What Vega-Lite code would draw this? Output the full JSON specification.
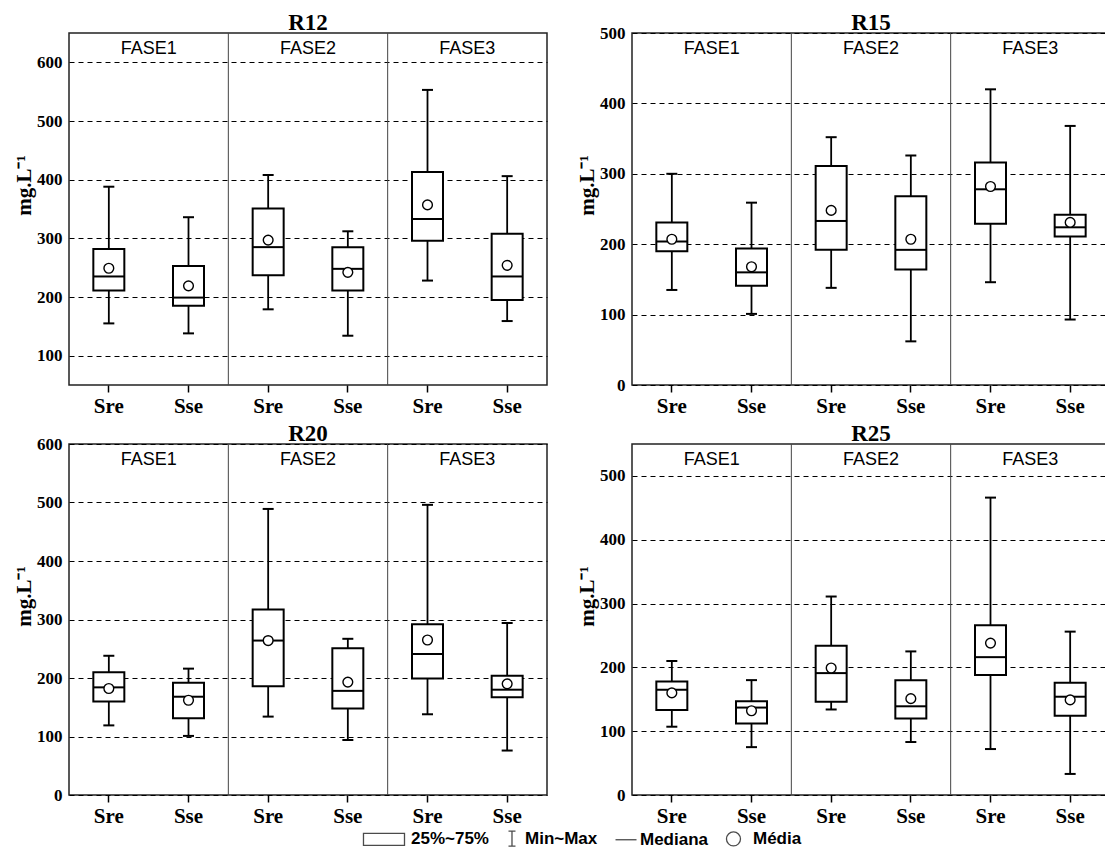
{
  "$schema": "https://vega.github.io/schema/vega-lite/v6.json",
  "background": "white",
  "padding": {"left": 12, "top": 10, "right": 0, "bottom": 0},
  "datasets": {
    "stats": [
      {"reator": "R12", "cat": "FASE1 Sre", "min": 155, "q1": 211, "mediana": 235, "q3": 282, "max": 388, "media": 249},
      {"reator": "R12", "cat": "FASE1 Sse", "min": 138, "q1": 185, "mediana": 199, "q3": 253, "max": 336, "media": 219},
      {"reator": "R12", "cat": "FASE2 Sre", "min": 179, "q1": 237, "mediana": 285, "q3": 351, "max": 408, "media": 297},
      {"reator": "R12", "cat": "FASE2 Sse", "min": 134, "q1": 211, "mediana": 248, "q3": 285, "max": 312, "media": 242},
      {"reator": "R12", "cat": "FASE3 Sre", "min": 228, "q1": 296, "mediana": 333, "q3": 413, "max": 553, "media": 357},
      {"reator": "R12", "cat": "FASE3 Sse", "min": 159, "q1": 195, "mediana": 235, "q3": 308, "max": 406, "media": 254},
      {"reator": "R15", "cat": "FASE1 Sre", "min": 135, "q1": 190, "mediana": 204, "q3": 231, "max": 300, "media": 207},
      {"reator": "R15", "cat": "FASE1 Sse", "min": 101, "q1": 141, "mediana": 160, "q3": 194, "max": 259, "media": 168},
      {"reator": "R15", "cat": "FASE2 Sre", "min": 138, "q1": 192, "mediana": 233, "q3": 311, "max": 352, "media": 248},
      {"reator": "R15", "cat": "FASE2 Sse", "min": 62, "q1": 164, "mediana": 192, "q3": 268, "max": 326, "media": 207},
      {"reator": "R15", "cat": "FASE3 Sre", "min": 146, "q1": 229, "mediana": 278, "q3": 316, "max": 420, "media": 282},
      {"reator": "R15", "cat": "FASE3 Sse", "min": 93, "q1": 211, "mediana": 224, "q3": 242, "max": 368, "media": 231},
      {"reator": "R20", "cat": "FASE1 Sre", "min": 119, "q1": 160, "mediana": 184, "q3": 210, "max": 238, "media": 182},
      {"reator": "R20", "cat": "FASE1 Sse", "min": 101, "q1": 131, "mediana": 168, "q3": 192, "max": 216, "media": 162},
      {"reator": "R20", "cat": "FASE2 Sre", "min": 134, "q1": 186, "mediana": 264, "q3": 317, "max": 489, "media": 264},
      {"reator": "R20", "cat": "FASE2 Sse", "min": 94, "q1": 148, "mediana": 178, "q3": 251, "max": 267, "media": 193},
      {"reator": "R20", "cat": "FASE3 Sre", "min": 138, "q1": 199, "mediana": 241, "q3": 292, "max": 496, "media": 265},
      {"reator": "R20", "cat": "FASE3 Sse", "min": 76, "q1": 167, "mediana": 180, "q3": 204, "max": 294, "media": 190},
      {"reator": "R25", "cat": "FASE1 Sre", "min": 107, "q1": 133, "mediana": 165, "q3": 178, "max": 210, "media": 160},
      {"reator": "R25", "cat": "FASE1 Sse", "min": 75, "q1": 112, "mediana": 137, "q3": 147, "max": 180, "media": 132},
      {"reator": "R25", "cat": "FASE2 Sre", "min": 134, "q1": 146, "mediana": 191, "q3": 234, "max": 311, "media": 199},
      {"reator": "R25", "cat": "FASE2 Sse", "min": 83, "q1": 120, "mediana": 139, "q3": 180, "max": 225, "media": 151},
      {"reator": "R25", "cat": "FASE3 Sre", "min": 72, "q1": 188, "mediana": 216, "q3": 266, "max": 466, "media": 238},
      {"reator": "R25", "cat": "FASE3 Sse", "min": 33, "q1": 124, "mediana": 154, "q3": 176, "max": 256, "media": 149}
    ],
    "fases": [
      {"fase": "FASE1", "primeiro": "FASE1 Sre"},
      {"fase": "FASE2", "primeiro": "FASE2 Sre"},
      {"fase": "FASE3", "primeiro": "FASE3 Sre"}
    ],
    "legenda": [
      {"item": "25%~75%"},
      {"item": "Min~Max"},
      {"item": "Mediana"},
      {"item": "Média"}
    ]
  },
  "columns": 2,
  "spacing": {"row": 59, "column": 85},
  "bounds": "flush",
  "concat": [
    {
      "title": {"text": "R12", "offset": -2},
      "width": 478,
      "height": 352,
      "layer": [
        {
          "data": {"name": "stats"},
          "transform": [{"filter": "datum.reator == 'R12'"}],
          "encoding": {
            "x": {"field": "cat", "type": "nominal", "scale": {"domain": ["FASE1 Sre", "FASE1 Sse", "FASE2 Sre", "FASE2 Sse", "FASE3 Sre", "FASE3 Sse"], "paddingInner": 0, "paddingOuter": 0}, "axis": {"title": null, "labelExpr": "split(datum.label, ' ')[1]"}}
          },
          "layer": [
            {"mark": {"type": "rule", "stroke": "black", "strokeWidth": 1.8}, "encoding": {"y": {"field": "min", "type": "quantitative", "scale": {"domain": [50, 650], "nice": false, "zero": false}, "axis": {"title": "mg.L⁻¹", "values": [100, 200, 300, 400, 500, 600]}}, "y2": {"field": "max"}}},
            {"mark": {"type": "tick", "color": "black", "opacity": 1, "size": 11, "thickness": 2}, "encoding": {"y": {"field": "min", "type": "quantitative"}}},
            {"mark": {"type": "tick", "color": "black", "opacity": 1, "size": 11, "thickness": 2}, "encoding": {"y": {"field": "max", "type": "quantitative"}}},
            {"mark": {"type": "bar", "width": 31, "fill": "white", "stroke": "black", "strokeWidth": 2, "opacity": 1}, "encoding": {"y": {"field": "q1", "type": "quantitative"}, "y2": {"field": "q3"}}},
            {"mark": {"type": "tick", "color": "black", "opacity": 1, "size": 31, "thickness": 2}, "encoding": {"y": {"field": "mediana", "type": "quantitative"}}},
            {"mark": {"type": "point", "shape": "circle", "size": 95, "filled": true, "fill": "white", "stroke": "black", "strokeWidth": 1.4, "opacity": 1}, "encoding": {"y": {"field": "media", "type": "quantitative"}}}
          ]
        },
        {
          "data": {"name": "fases"},
          "layer": [
            {"transform": [{"filter": "datum.fase != 'FASE1'"}], "mark": {"type": "rule", "stroke": "#444", "strokeWidth": 1}, "encoding": {"x": {"field": "primeiro", "type": "nominal", "bandPosition": 0}}},
            {"mark": {"type": "text", "font": "Liberation Sans", "fontSize": 18, "baseline": "top", "dy": 7, "color": "black"}, "encoding": {"x": {"field": "primeiro", "type": "nominal", "bandPosition": 1}, "y": {"datum": 650}, "text": {"field": "fase"}}}
          ]
        }
      ]
    },
    {
      "title": {"text": "R15", "offset": -11},
      "width": 478,
      "height": 352,
      "layer": [
        {
          "data": {"name": "stats"},
          "transform": [{"filter": "datum.reator == 'R15'"}],
          "encoding": {
            "x": {"field": "cat", "type": "nominal", "scale": {"domain": ["FASE1 Sre", "FASE1 Sse", "FASE2 Sre", "FASE2 Sse", "FASE3 Sre", "FASE3 Sse"], "paddingInner": 0, "paddingOuter": 0}, "axis": {"title": null, "labelExpr": "split(datum.label, ' ')[1]"}}
          },
          "layer": [
            {"mark": {"type": "rule", "stroke": "black", "strokeWidth": 1.8}, "encoding": {"y": {"field": "min", "type": "quantitative", "scale": {"domain": [0, 500], "nice": false, "zero": false}, "axis": {"title": "mg.L⁻¹", "values": [0, 100, 200, 300, 400, 500]}}, "y2": {"field": "max"}}},
            {"mark": {"type": "tick", "color": "black", "opacity": 1, "size": 11, "thickness": 2}, "encoding": {"y": {"field": "min", "type": "quantitative"}}},
            {"mark": {"type": "tick", "color": "black", "opacity": 1, "size": 11, "thickness": 2}, "encoding": {"y": {"field": "max", "type": "quantitative"}}},
            {"mark": {"type": "bar", "width": 31, "fill": "white", "stroke": "black", "strokeWidth": 2, "opacity": 1}, "encoding": {"y": {"field": "q1", "type": "quantitative"}, "y2": {"field": "q3"}}},
            {"mark": {"type": "tick", "color": "black", "opacity": 1, "size": 31, "thickness": 2}, "encoding": {"y": {"field": "mediana", "type": "quantitative"}}},
            {"mark": {"type": "point", "shape": "circle", "size": 95, "filled": true, "fill": "white", "stroke": "black", "strokeWidth": 1.4, "opacity": 1}, "encoding": {"y": {"field": "media", "type": "quantitative"}}}
          ]
        },
        {
          "data": {"name": "fases"},
          "layer": [
            {"transform": [{"filter": "datum.fase != 'FASE1'"}], "mark": {"type": "rule", "stroke": "#444", "strokeWidth": 1}, "encoding": {"x": {"field": "primeiro", "type": "nominal", "bandPosition": 0}}},
            {"mark": {"type": "text", "font": "Liberation Sans", "fontSize": 18, "baseline": "top", "dy": 7, "color": "black"}, "encoding": {"x": {"field": "primeiro", "type": "nominal", "bandPosition": 1}, "y": {"datum": 500}, "text": {"field": "fase"}}}
          ]
        }
      ]
    },
    {
      "title": {"text": "R20", "offset": -11},
      "width": 478,
      "height": 351,
      "layer": [
        {
          "data": {"name": "stats"},
          "transform": [{"filter": "datum.reator == 'R20'"}],
          "encoding": {
            "x": {"field": "cat", "type": "nominal", "scale": {"domain": ["FASE1 Sre", "FASE1 Sse", "FASE2 Sre", "FASE2 Sse", "FASE3 Sre", "FASE3 Sse"], "paddingInner": 0, "paddingOuter": 0}, "axis": {"title": null, "labelExpr": "split(datum.label, ' ')[1]"}}
          },
          "layer": [
            {"mark": {"type": "rule", "stroke": "black", "strokeWidth": 1.8}, "encoding": {"y": {"field": "min", "type": "quantitative", "scale": {"domain": [0, 600], "nice": false, "zero": false}, "axis": {"title": "mg.L⁻¹", "values": [0, 100, 200, 300, 400, 500, 600]}}, "y2": {"field": "max"}}},
            {"mark": {"type": "tick", "color": "black", "opacity": 1, "size": 11, "thickness": 2}, "encoding": {"y": {"field": "min", "type": "quantitative"}}},
            {"mark": {"type": "tick", "color": "black", "opacity": 1, "size": 11, "thickness": 2}, "encoding": {"y": {"field": "max", "type": "quantitative"}}},
            {"mark": {"type": "bar", "width": 31, "fill": "white", "stroke": "black", "strokeWidth": 2, "opacity": 1}, "encoding": {"y": {"field": "q1", "type": "quantitative"}, "y2": {"field": "q3"}}},
            {"mark": {"type": "tick", "color": "black", "opacity": 1, "size": 31, "thickness": 2}, "encoding": {"y": {"field": "mediana", "type": "quantitative"}}},
            {"mark": {"type": "point", "shape": "circle", "size": 95, "filled": true, "fill": "white", "stroke": "black", "strokeWidth": 1.4, "opacity": 1}, "encoding": {"y": {"field": "media", "type": "quantitative"}}}
          ]
        },
        {
          "data": {"name": "fases"},
          "layer": [
            {"transform": [{"filter": "datum.fase != 'FASE1'"}], "mark": {"type": "rule", "stroke": "#444", "strokeWidth": 1}, "encoding": {"x": {"field": "primeiro", "type": "nominal", "bandPosition": 0}}},
            {"mark": {"type": "text", "font": "Liberation Sans", "fontSize": 18, "baseline": "top", "dy": 7, "color": "black"}, "encoding": {"x": {"field": "primeiro", "type": "nominal", "bandPosition": 1}, "y": {"datum": 600}, "text": {"field": "fase"}}}
          ]
        },
        {
          "data": {"name": "legenda"},
          "mark": {"type": "point", "filled": false, "color": "black", "strokeWidth": 1.3, "clip": true},
          "encoding": {
            "y": {"datum": -1000},
            "shape": {
              "field": "item",
              "type": "nominal",
              "scale": {
                "domain": ["25%~75%", "Min~Max", "Mediana", "Média"],
                "range": ["M-4.86,-0.86H1V0.86H-4.86Z", "M-0.43,-1.07H0.57M0.07,-1.07V1.07M-0.43,1.07H0.57", "M-1.57,0H1.43", "M0.14,0A1,1,0,1,1,-1.86,0A1,1,0,1,1,0.14,0Z"]
              },
              "legend": {"orient": "none", "legendX": 320, "legendY": 797, "direction": "horizontal", "title": null, "symbolSize": 196, "symbolStrokeWidth": 1.3, "symbolStrokeColor": "black", "symbolFillColor": "white", "labelFont": "Liberation Sans", "labelFontWeight": "bold", "labelFontSize": 17, "labelColor": "black", "labelOffset": 5, "columnPadding": 14, "padding": 0, "labelLimit": 300}
            }
          }
        }
      ]
    },
    {
      "title": {"text": "R25", "offset": -2},
      "width": 478,
      "height": 351,
      "layer": [
        {
          "data": {"name": "stats"},
          "transform": [{"filter": "datum.reator == 'R25'"}],
          "encoding": {
            "x": {"field": "cat", "type": "nominal", "scale": {"domain": ["FASE1 Sre", "FASE1 Sse", "FASE2 Sre", "FASE2 Sse", "FASE3 Sre", "FASE3 Sse"], "paddingInner": 0, "paddingOuter": 0}, "axis": {"title": null, "labelExpr": "split(datum.label, ' ')[1]"}}
          },
          "layer": [
            {"mark": {"type": "rule", "stroke": "black", "strokeWidth": 1.8}, "encoding": {"y": {"field": "min", "type": "quantitative", "scale": {"domain": [0, 550], "nice": false, "zero": false}, "axis": {"title": "mg.L⁻¹", "values": [0, 100, 200, 300, 400, 500]}}, "y2": {"field": "max"}}},
            {"mark": {"type": "tick", "color": "black", "opacity": 1, "size": 11, "thickness": 2}, "encoding": {"y": {"field": "min", "type": "quantitative"}}},
            {"mark": {"type": "tick", "color": "black", "opacity": 1, "size": 11, "thickness": 2}, "encoding": {"y": {"field": "max", "type": "quantitative"}}},
            {"mark": {"type": "bar", "width": 31, "fill": "white", "stroke": "black", "strokeWidth": 2, "opacity": 1}, "encoding": {"y": {"field": "q1", "type": "quantitative"}, "y2": {"field": "q3"}}},
            {"mark": {"type": "tick", "color": "black", "opacity": 1, "size": 31, "thickness": 2}, "encoding": {"y": {"field": "mediana", "type": "quantitative"}}},
            {"mark": {"type": "point", "shape": "circle", "size": 95, "filled": true, "fill": "white", "stroke": "black", "strokeWidth": 1.4, "opacity": 1}, "encoding": {"y": {"field": "media", "type": "quantitative"}}}
          ]
        },
        {
          "data": {"name": "fases"},
          "layer": [
            {"transform": [{"filter": "datum.fase != 'FASE1'"}], "mark": {"type": "rule", "stroke": "#444", "strokeWidth": 1}, "encoding": {"x": {"field": "primeiro", "type": "nominal", "bandPosition": 0}}},
            {"mark": {"type": "text", "font": "Liberation Sans", "fontSize": 18, "baseline": "top", "dy": 7, "color": "black"}, "encoding": {"x": {"field": "primeiro", "type": "nominal", "bandPosition": 1}, "y": {"datum": 550}, "text": {"field": "fase"}}}
          ]
        }
      ]
    }
  ],
  "config": {
    "view": {"stroke": "#222", "strokeWidth": 1.5},
    "title": {"font": "Liberation Serif", "fontSize": 23, "fontWeight": "bold", "color": "black", "frame": "group", "anchor": "middle", "baseline": "alphabetic"},
    "axis": {"labelColor": "black", "titleColor": "black", "domain": false},
    "axisY": {"grid": true, "gridColor": "black", "gridDash": [5, 4], "gridWidth": 1.1, "ticks": false, "labelFont": "Liberation Serif", "labelFontWeight": "bold", "labelFontSize": 17, "labelPadding": 7, "titleFont": "Liberation Serif", "titleFontWeight": "bold", "titleFontSize": 21, "titlePadding": 2, "titleY": 152},
    "axisX": {"grid": false, "labelFont": "Liberation Serif", "labelFontWeight": "bold", "labelFontSize": 21, "labelAngle": 0, "tickSize": 7, "tickColor": "black", "tickWidth": 1.5, "labelPadding": 3}
  }
}
